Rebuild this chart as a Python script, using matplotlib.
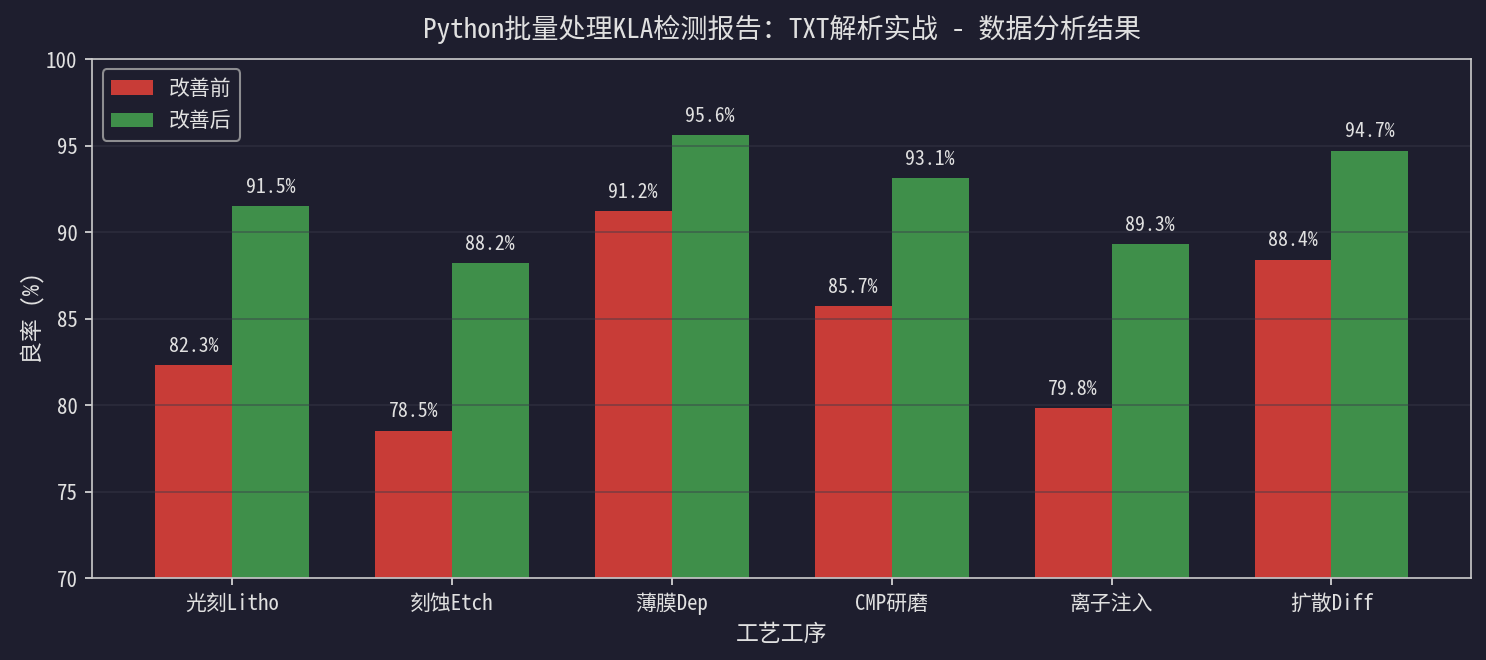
import numpy as np
import matplotlib
matplotlib.use("Agg")
import matplotlib.pyplot as plt

plt.rcParams["font.family"] = ["Noto Sans Mono CJK SC", "Noto Sans CJK SC", "DejaVu Sans"]
plt.rcParams["axes.unicode_minus"] = False

categories = ["光刻Litho", "刻蚀Etch", "薄膜Dep", "CMP研磨", "离子注入", "扩散Diff"]
before = [82.3, 78.5, 91.2, 85.7, 79.8, 88.4]
after = [91.5, 88.2, 95.6, 93.1, 89.3, 94.7]

BG = "#1e1e2e"
FG = "#e0e0e0"
RED = "#c83c37"
GREEN = "#3f8f4a"

fig, ax = plt.subplots(figsize=(1486 / 150, 660 / 150), dpi=150, facecolor=BG)
ax.set_facecolor(BG)

x = np.arange(len(categories))
w = 0.35
b1 = ax.bar(x - w / 2, before, w, color=RED, label="改善前")
b2 = ax.bar(x + w / 2, after, w, color=GREEN, label="改善后")

for bars in (b1, b2):
    for r in bars:
        h = r.get_height()
        ax.text(r.get_x() + r.get_width() / 2, h + 0.55, f"{h:.1f}%",
                ha="center", va="bottom", color=FG, fontsize=9.5)

ax.set_ylim(70, 100)
ax.set_xticks(x)
ax.set_xticklabels(categories)
ax.set_xlabel("工艺工序", color=FG, fontsize=11)
ax.set_ylabel("良率 (%)", color=FG, fontsize=11, labelpad=1)
ax.set_title("Python批量处理KLA检测报告：TXT解析实战 - 数据分析结果", color=FG, fontsize=13, pad=10)
ax.tick_params(colors=FG, labelsize=10)
for s in ax.spines.values():
    s.set_color("#cccccc")
ax.grid(True, axis="y", color="#3a3a4a", alpha=0.5, linewidth=0.8)

leg = ax.legend(loc="upper left", fontsize=10, facecolor=BG, edgecolor="#aaaaaa", labelcolor=FG)

plt.subplots_adjust(left=0.062, right=0.99, top=0.9106, bottom=0.1242)
plt.savefig("out.png", dpi=150, facecolor=BG)
